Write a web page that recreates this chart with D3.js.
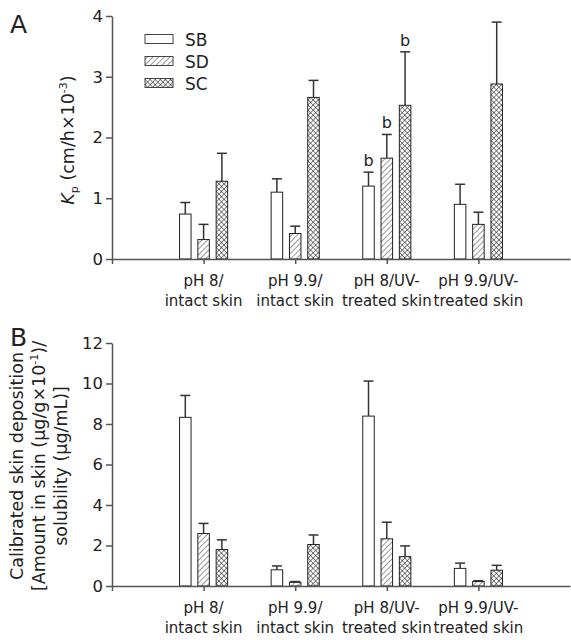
<!DOCTYPE html>
<html>
<head>
<meta charset="utf-8">
<script src="https://cdn.jsdelivr.net/npm/d3@7"></script>
<style>
body { margin: 0; background: #fff; }
text { font-family: "DejaVu Sans", sans-serif; fill: #222; }
.axis path, .axis line { stroke: #555; stroke-width: 1.5; }
.axis text { font-size: 16.5px; fill: #222; }
</style>
</head>
<body>
<script>
// categories + series
const categories = [['pH 8/', 'intact skin'], ['pH 9.9/', 'intact skin'], ['pH 8/UV-', 'treated skin'], ['pH 9.9/UV-', 'treated skin']];
const seriesNames = ['SB', 'SD', 'SC'];

// panel A : Kp
const kpSB = [0.74, 1.10, 1.20, 0.90];
const kpSD = [0.32, 0.42, 1.66, 0.57];
const kpSC = [1.28, 2.66, 2.53, 2.88];
const kpErrSB = [0.19, 0.22, 0.23, 0.33];
const kpErrSD = [0.25, 0.12, 0.39, 0.20];
const kpErrSC = [0.46, 0.28, 0.88, 1.02];
const kpMarks = [[], [], ['b', 'b', 'b'], []];
const kpTicks = [0, 1, 2, 3, 4];

// panel B : calibrated skin deposition
const depSB = [8.33, 0.80, 8.39, 0.87];
const depSD = [2.59, 0.18, 2.33, 0.22];
const depSC = [1.80, 2.05, 1.45, 0.78];
const depErrSB = [1.08, 0.19, 1.73, 0.26];
const depErrSD = [0.50, 0.04, 0.82, 0.04];
const depErrSC = [0.48, 0.47, 0.53, 0.24];
const depTicks = [0, 2, 4, 6, 8, 10, 12];

const svg = d3.select(document.body)
    .append('svg')
    .attr('width', 571)
    .attr('height', 640);

// patterns
const defs = svg.append('defs');
const hatch = defs.append('pattern')
    .attr('id', 'hatch')
    .attr('patternUnits', 'userSpaceOnUse')
    .attr('width', 4).attr('height', 4)
    .attr('patternTransform', 'rotate(45)');
hatch.append('rect').attr('width', 4).attr('height', 4).attr('fill', '#fff');
hatch.append('line').attr('x1', 0).attr('y1', 0).attr('x2', 0).attr('y2', 4)
    .attr('stroke', '#333').attr('stroke-width', 1);

const cross = defs.append('pattern')
    .attr('id', 'cross')
    .attr('patternUnits', 'userSpaceOnUse')
    .attr('width', 3.6).attr('height', 3.6)
    .attr('patternTransform', 'rotate(45)');
cross.append('rect').attr('width', 3.6).attr('height', 3.6).attr('fill', '#fff');
cross.append('line').attr('x1', 0).attr('y1', 0).attr('x2', 0).attr('y2', 3.6)
    .attr('stroke', '#222').attr('stroke-width', 1.1);
cross.append('line').attr('x1', 0).attr('y1', 0).attr('x2', 3.6).attr('y2', 0)
    .attr('stroke', '#222').attr('stroke-width', 1.1);

const fills = ['#fff', 'url(#hatch)', 'url(#cross)'];

const x = d3.scaleLinear().domain([0, 5]).range([112, 570]);
const barW = 11.5;
const barStep = 18.3;

function drawPanel(top, bottom, ymax, ticks, values, errs, marks) {
    const y = d3.scaleLinear().domain([0, ymax]).range([bottom, top]);
    const g = svg.append('g');

    values.forEach(function(vals, j) {
        const errG = g.append('g');
        vals.forEach(function(v, i) {
            const cx = x(i + 1) + (j - 1) * barStep;
            const e = errs[j][i];
            // error bar
            errG.append('line')
                .attr('x1', cx).attr('x2', cx)
                .attr('y1', y(v)).attr('y2', y(v + e))
                .attr('stroke', '#333').attr('stroke-width', 1.5);
            errG.append('line')
                .attr('x1', cx - 5).attr('x2', cx + 5)
                .attr('y1', y(v + e)).attr('y2', y(v + e))
                .attr('stroke', '#333').attr('stroke-width', 1.5);
            g.append('rect')
                .attr('x', cx - barW / 2)
                .attr('y', y(v))
                .attr('width', barW)
                .attr('height', y(0) - y(v))
                .attr('fill', fills[j])
                .attr('stroke', '#222')
                .attr('stroke-width', 1);
            if (marks && marks[i][j]) {
                g.append('text')
                    .attr('x', cx)
                    .attr('y', y(v + e) - 6)
                    .attr('text-anchor', 'middle')
                    .style('font-size', '16px')
                    .text(marks[i][j]);
            }
        });
    });

    g.append('g')
        .attr('class', 'axis')
        .attr('transform', 'translate(112,0)')
        .call(d3.axisLeft(y).tickValues(ticks).tickFormat(d3.format('d'))
            .tickSize(6).tickSizeOuter(0).tickPadding(3));

    g.append('g')
        .attr('class', 'axis')
        .attr('transform', 'translate(0,' + bottom + ')')
        .call(d3.axisBottom(x).tickValues([0, 1, 2, 3, 4]).tickSize(5).tickSizeOuter(0).tickFormat(''));

    categories.forEach(function(c, i) {
        const t = g.append('text')
            .attr('x', x(i + 1))
            .attr('y', bottom + 27)
            .attr('text-anchor', 'middle')
            .style('font-size', '15px');
        t.append('tspan').attr('x', x(i + 1)).text(c[0]);
        t.append('tspan').attr('x', x(i + 1)).attr('dy', 20).text(c[1]);
    });
    return y;
}

drawPanel(16, 259, 4, kpTicks, [kpSB, kpSD, kpSC], [kpErrSB, kpErrSD, kpErrSC], kpMarks);
drawPanel(343, 586, 12, depTicks, [depSB, depSD, depSC], [depErrSB, depErrSD, depErrSC], null);

// panel letters
svg.append('text').attr('x', 10).attr('y', 33).style('font-size', '25px').text('A');
svg.append('text').attr('x', 10).attr('y', 346).style('font-size', '25px').text('B');

// legend
seriesNames.forEach(function(s, i) {
    const ly = 39 + i * 22;
    svg.append('rect')
        .attr('x', 145).attr('y', ly - 4.5)
        .attr('width', 28).attr('height', 9)
        .attr('fill', fills[i])
        .attr('stroke', '#444').attr('stroke-width', 1);
    svg.append('text')
        .attr('x', 185).attr('y', ly + 6.5)
        .style('font-size', '17px')
        .text(s);
});

// y label A
const la = svg.append('text')
    .attr('transform', 'translate(74,140) rotate(-90)')
    .attr('text-anchor', 'middle')
    .style('font-size', '17.5px');
la.append('tspan').style('font-style', 'italic').text('K');
la.append('tspan').attr('dy', 4).style('font-size', '11px').text('p');
la.append('tspan').attr('dy', -4).text(' (cm/h\u00d710');
la.append('tspan').attr('dy', -7).style('font-size', '11px').text('-3');
la.append('tspan').attr('dy', 7).text(')');

// y label B
const lb = svg.append('g').attr('transform', 'translate(0,466) rotate(-90)');
lb.append('text').attr('x', 0).attr('y', 23).attr('text-anchor', 'middle')
    .style('font-size', '17.5px').text('Calibrated skin deposition');
const lb2 = lb.append('text').attr('x', 0).attr('y', 45).attr('text-anchor', 'middle')
    .style('font-size', '17.5px');
lb2.append('tspan').text('[Amount in skin (\u03bcg/g\u00d710');
lb2.append('tspan').attr('dy', -7).style('font-size', '11px').text('-1');
lb2.append('tspan').attr('dy', 7).text(')/');
lb.append('text').attr('x', 0).attr('y', 67).attr('text-anchor', 'middle')
    .style('font-size', '17.5px').text('solubility (\u03bcg/mL)]');
</script>
</body>
</html>
